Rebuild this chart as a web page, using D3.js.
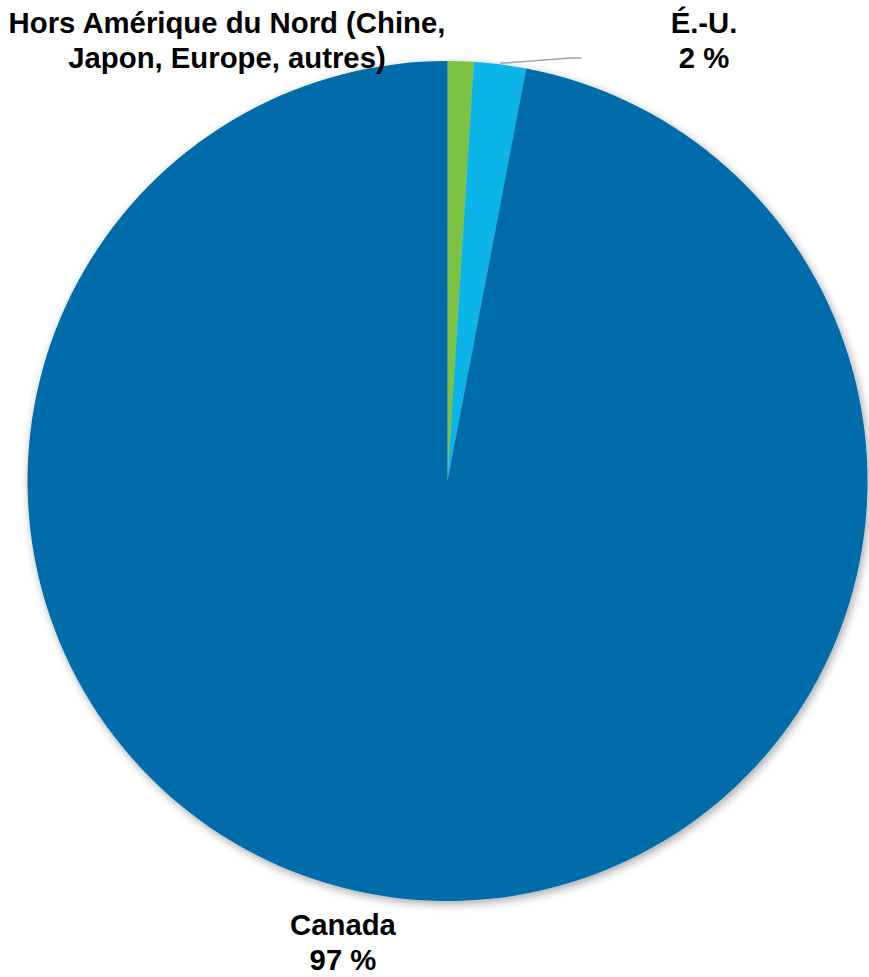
<!DOCTYPE html>
<html>
<head>
<meta charset="utf-8">
<script src="https://cdn.jsdelivr.net/npm/d3@7"></script>
<style>
  body { margin: 0; background: #fff; }
  text { font-family: 'Liberation Sans', Arial, sans-serif; font-weight: bold; fill: #000; }
</style>
</head>
<body>
<div id="chart"></div>
<script>
const categories = ['Hors Amérique du Nord (Chine, Japon, Europe, autres)', 'É.-U.', 'Canada'];
const values = [1, 2, 97];
const colors = ['#7DC242', '#0BB4E8', '#036CA9'];

const width = 869;
const height = 977;
const cx = 447.5, cy = 481, r = 420;

const svg = d3.select('#chart').append('svg')
  .attr('width', width)
  .attr('height', height);

// soft shadow round the pie
const defs = svg.append('defs');
const shadow = defs.append('filter').attr('id', 'shadow')
  .attr('x', '-10%').attr('y', '-10%').attr('width', '120%').attr('height', '120%');
shadow.append('feGaussianBlur').attr('in', 'SourceAlpha').attr('stdDeviation', 5);
shadow.append('feOffset').attr('dx', 2).attr('dy', 3).attr('result', 'blur');
shadow.append('feComponentTransfer').append('feFuncA').attr('type', 'linear').attr('slope', 0.35);
const merge = shadow.append('feMerge');
merge.append('feMergeNode');
merge.append('feMergeNode').attr('in', 'SourceGraphic');

const pie = d3.pie().sort(null).value(d => d);
const arcs = pie(values);
const arc = d3.arc().innerRadius(0).outerRadius(r);

const g = svg.append('g').attr('transform', `translate(${cx},${cy})`);
g.append('g').attr('filter', 'url(#shadow)')
  .selectAll('path')
  .data(arcs)
  .join('path')
  .attr('d', arc)
  .attr('fill', (d, i) => colors[i]);

// leader line for É.-U.
const us = arcs[1];
const mid = (us.startAngle + us.endAngle) / 2;
const p0 = [Math.sin(mid) * (r + 1), -Math.cos(mid) * (r + 1)];
svg.append('polyline')
  .attr('points', `${cx + p0[0]},${cy + p0[1]} ${cx + 124},${58} ${cx + 134},${58}`)
  .attr('fill', 'none')
  .attr('stroke', '#a6a6a6')
  .attr('stroke-width', 1.5);

// labels
const labels = [
  { lines: ['Hors Amérique du Nord (Chine,', 'Japon, Europe, autres)'], x: 227, y: 33 },
  { lines: ['É.-U.', values[1] + ' %'], x: 704, y: 33 },
  { lines: ['Canada', values[2] + ' %'], x: 343, y: 935 }
];
labels.forEach(l => {
  const t = svg.append('text')
    .attr('text-anchor', 'middle')
    .attr('font-size', 29.3);
  l.lines.forEach((s, i) => {
    t.append('tspan').attr('x', l.x).attr('y', l.y + i * 35).text(s);
  });
});
</script>
</body>
</html>
